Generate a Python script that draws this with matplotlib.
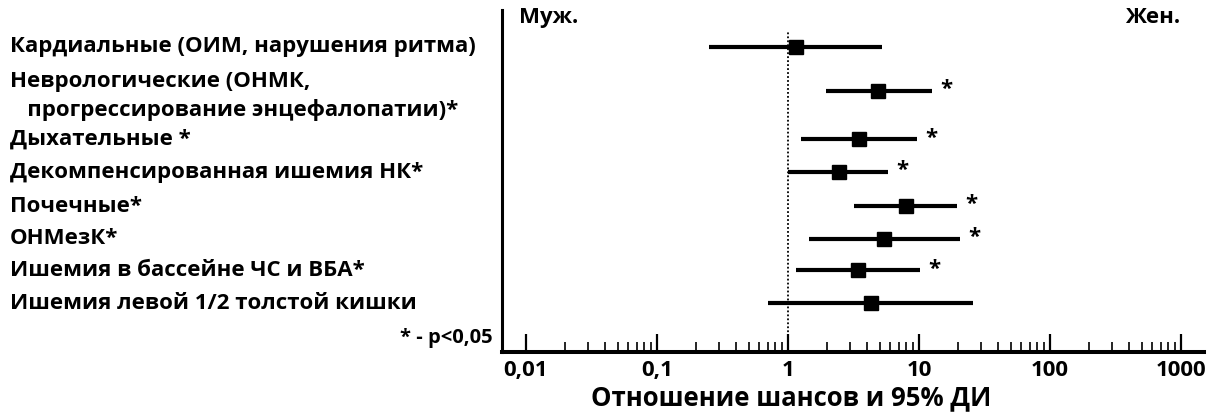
import matplotlib.pyplot as plt
from matplotlib.ticker import FixedLocator, FixedFormatter, NullFormatter
from matplotlib.transforms import blended_transform_factory

plt.rcParams['font.family'] = ['Open Sans', 'DejaVu Sans']
plt.rcParams['font.weight'] = 'bold'

# Categories (top to bottom) and odds ratios with 95% CI
labels = [
    "Кардиальные (ОИМ, нарушения ритма)",
    "Неврологические (ОНМК,\n   прогрессирование энцефалопатии)*",
    "Дыхательные *",
    "Декомпенсированная ишемия НК*",
    "Почечные*",
    "ОНМезК*",
    "Ишемия в бассейне ЧС и ВБА*",
    "Ишемия левой 1/2 толстой кишки",
]
odds = [1.15, 4.9, 3.5, 2.45, 8.0, 5.4, 3.4, 4.3]
ci_low = [0.25, 1.95, 1.25, 1.0, 3.2, 1.45, 1.15, 0.7]
ci_high = [5.2, 12.5, 9.7, 5.8, 19.5, 20.5, 10.2, 26.0]
significant = [False, True, True, True, True, True, True, False]
ypos = [0, 1.35, 2.85, 3.85, 4.9, 5.9, 6.87, 7.87]

tick_values = [0.01, 0.1, 1, 10, 100, 1000]
tick_labels = ["0,01", "0,1", "1", "10", "100", "1000"]

fig = plt.figure(figsize=(12.19, 4.12), dpi=100)
ax = fig.add_axes([502 / 1219, 60 / 412, 702 / 1219, 342 / 412])

ax.set_xscale('log')
ax.set_xlim(0.00656, 1500)
ax.set_ylim(9.37, -1.12)

# dotted reference line at OR = 1
ax.vlines(1, 9.37, -0.45, colors='black', linestyles=(0, (1, 1.2)), linewidth=1.3)

for y, lo, hi, o, sig in zip(ypos, ci_low, ci_high, odds, significant):
    ax.hlines(y, lo, hi, colors='black', linewidth=3)
    ax.plot(o, y, marker='s', color='black', markersize=10.5)
    if sig:
        ax.annotate('*', (hi, y), xytext=(6, 1), textcoords='offset points',
                    fontsize=16, fontweight='bold', ha='left', va='center')

# category labels on the left (two-line label sits a bit lower)
trans = blended_transform_factory(fig.transFigure, ax.transData)
for y, lab in zip(ypos, labels):
    shift = 0.17 * lab.count("\n")
    ax.text(10 / 1219, y + shift, lab, transform=trans, ha='left', va='center',
            fontsize=16, fontweight='bold', linespacing=1.45, clip_on=False)

ax.text(0.024, 0.977, "Муж.", transform=ax.transAxes, ha='left', va='center',
        fontsize=16, fontweight='bold')
ax.text(0.966, 0.977, "Жен.", transform=ax.transAxes, ha='right', va='center',
        fontsize=16, fontweight='bold')
fig.text(493 / 1219, (412 - 338) / 412, "* - p<0,05", ha='right', va='center',
         fontsize=14.5, fontweight='bold')

# axes styling
for side in ['top', 'right']:
    ax.spines[side].set_visible(False)
ax.spines['left'].set_linewidth(2.2)
ax.spines['bottom'].set_linewidth(2.9)
ax.set_yticks([])

minor_ticks = [m * 10.0 ** e for e in range(-2, 3) for m in range(2, 10)]
ax.xaxis.set_major_locator(FixedLocator(tick_values))
ax.xaxis.set_major_formatter(FixedFormatter(tick_labels))
ax.xaxis.set_minor_locator(FixedLocator(minor_ticks))
ax.xaxis.set_minor_formatter(NullFormatter())
ax.tick_params(axis='x', which='major', direction='in', length=13, width=1.6,
               labelsize=16, pad=6)
ax.tick_params(axis='x', which='minor', direction='in', length=7.5, width=1.2)
for t in ax.get_xticklabels():
    t.set_fontweight('bold')

ax.set_xlabel("Отношение шансов и 95% ДИ", fontsize=18.5, fontweight='bold',
              va='center')
ax.xaxis.set_label_coords(0.412, -0.135)

fig.savefig('out.png', dpi=100)
